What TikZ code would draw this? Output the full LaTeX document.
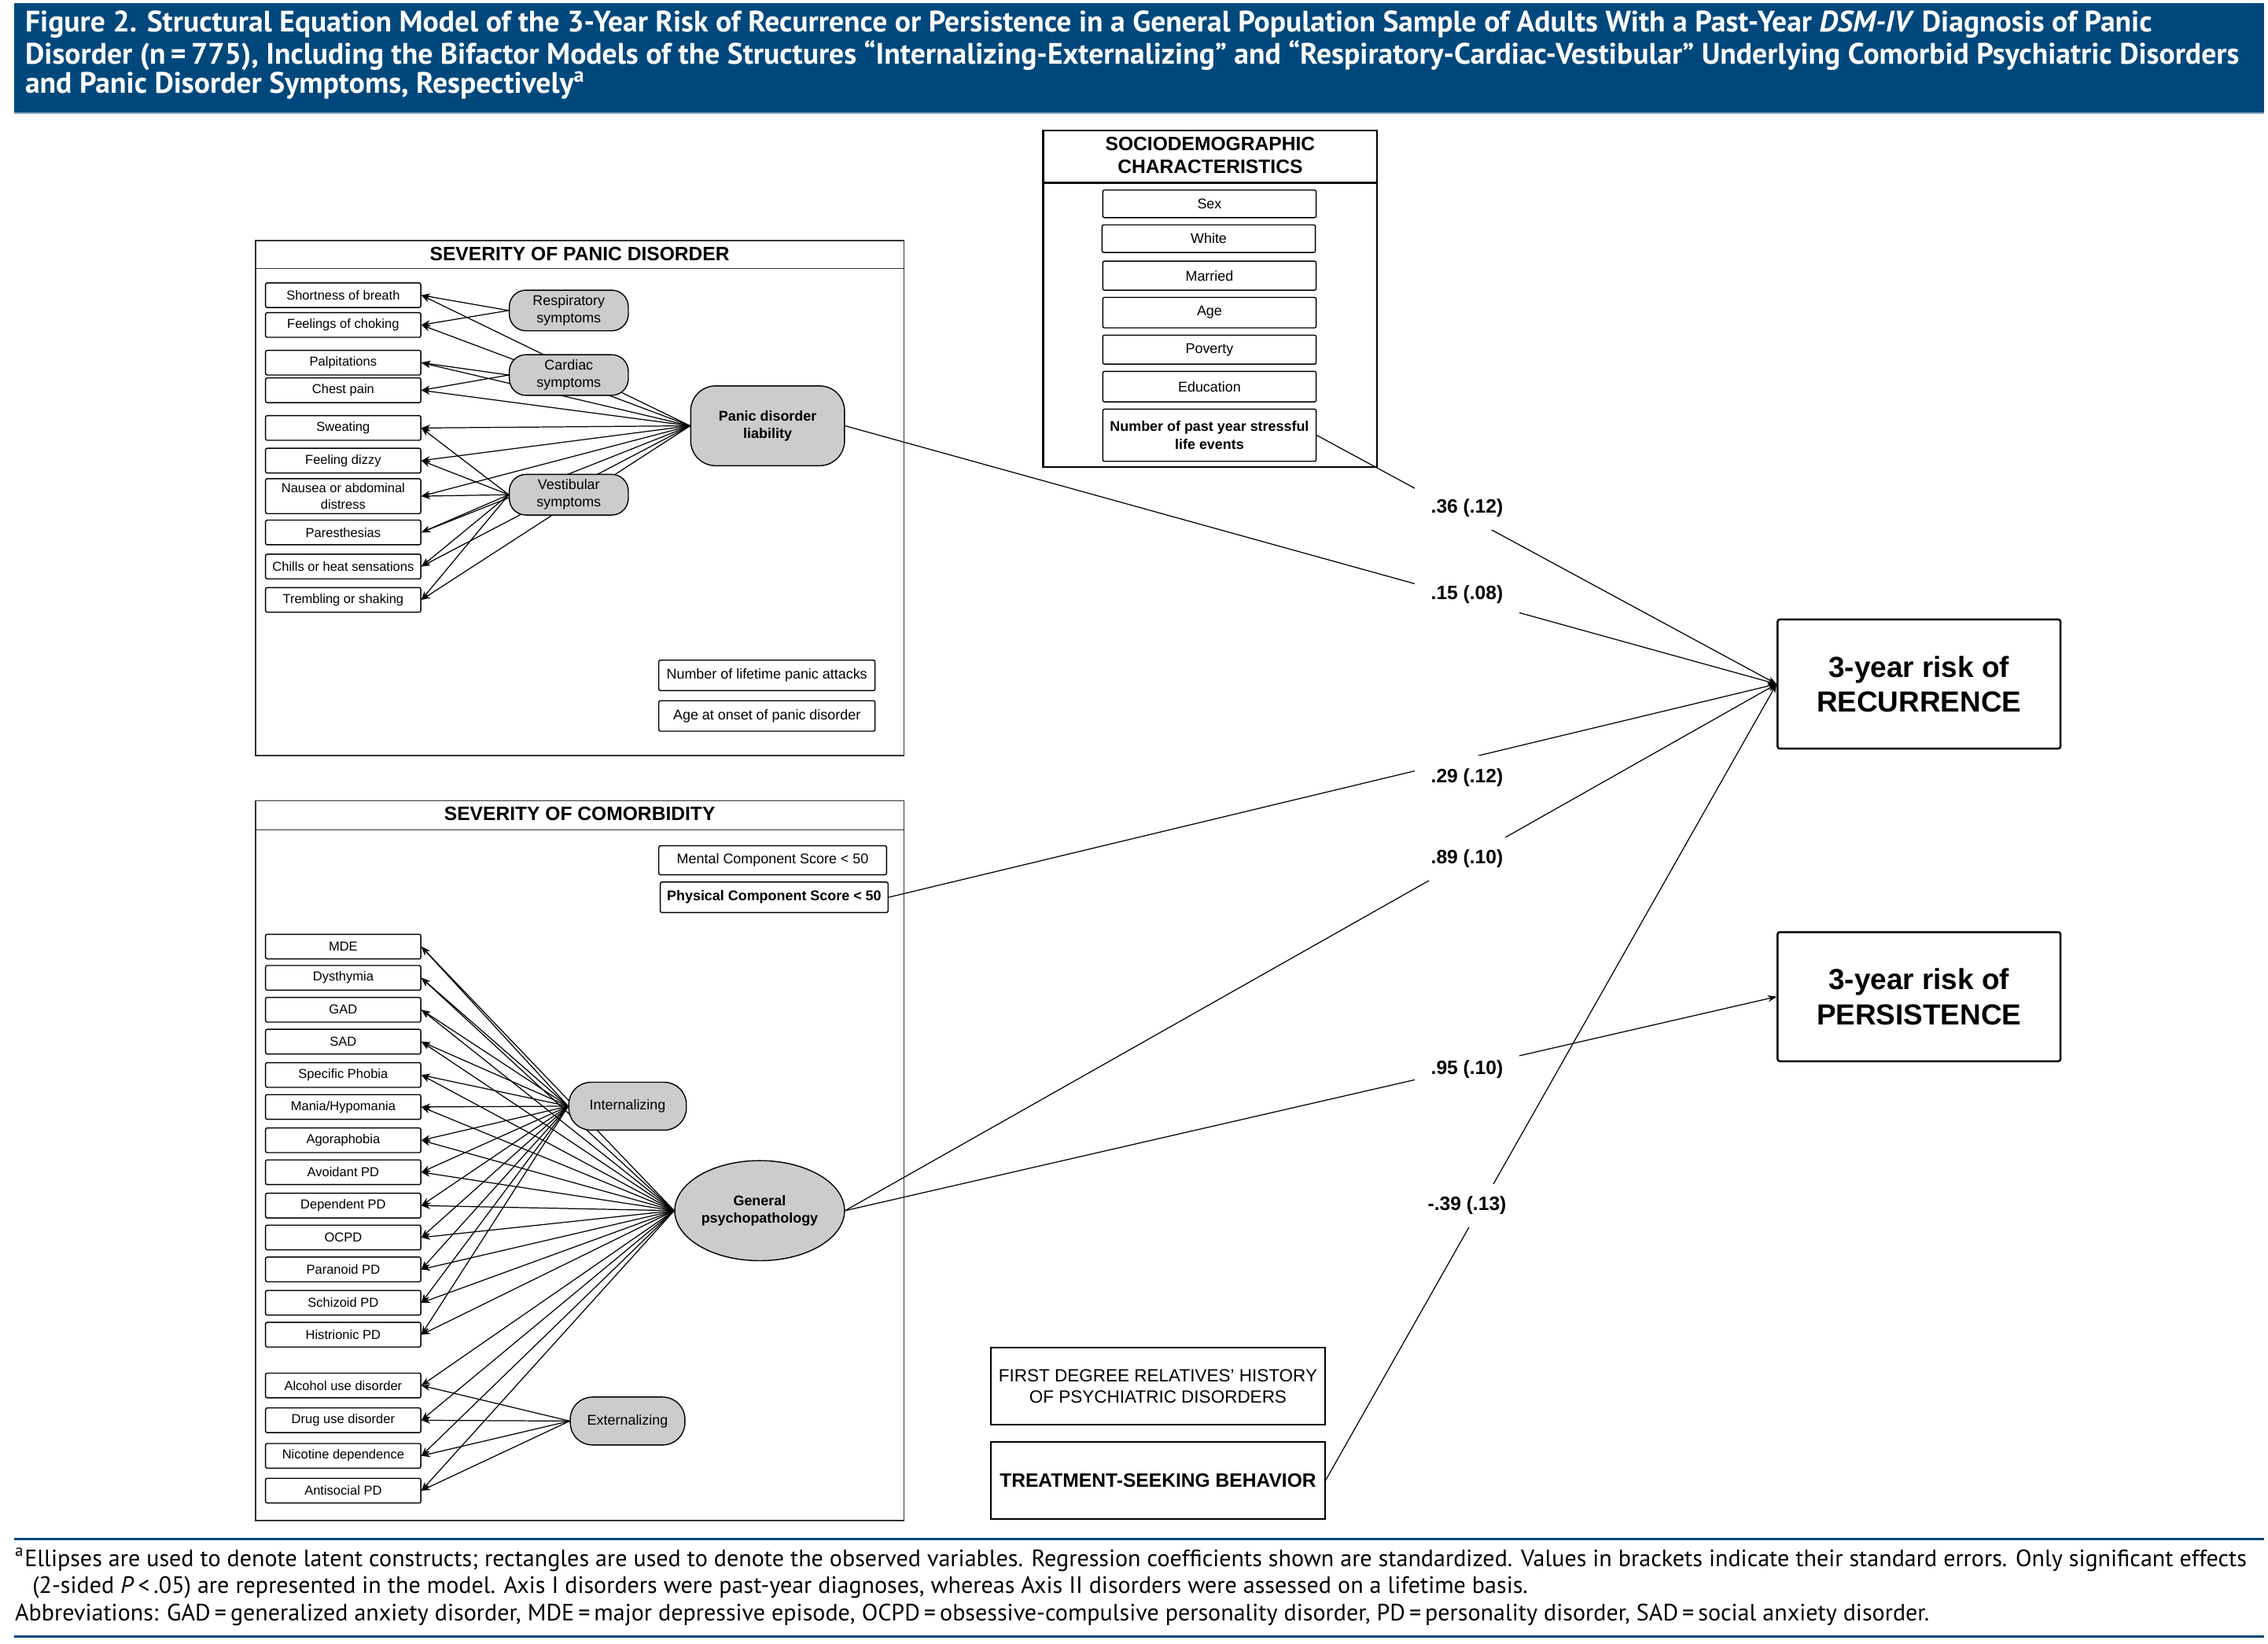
\documentclass[tikz,border=0pt]{standalone}
\usepackage{fontspec}
\setmainfont{Liberation Sans}
\newfontfamily\capfont{PT Sans}
\usetikzlibrary{arrows.meta,backgrounds,shapes.geometric}

\definecolor{capblue}{HTML}{00487C}
\newcommand{\pxu}{0.01845cm}
\newcommand{\obsfont}{\fontsize{5.1}{6.3}\selectfont}
\newcommand{\indfont}{\fontsize{4.7}{6}\selectfont}
\newcommand{\labfont}{\fontsize{7}{8.4}\selectfont\bfseries}

\tikzset{
  >={Stealth[length=3.2pt,width=2.4pt]},
  link/.style={->,line width=0.35pt},
  obs/.style={draw,fill=white,rounded corners=0.6pt,line width=0.4pt,inner sep=0pt,
    minimum width=107*\pxu,minimum height=17*\pxu,align=center,font=\obsfont},
  ind/.style={obs,font=\indfont},
  latent/.style={draw,fill=gray!40,rounded corners=6pt,line width=0.4pt,inner sep=0pt,
    minimum width=82*\pxu,minimum height=28*\pxu,align=center,font=\obsfont},
  liab/.style={latent,rounded corners=9pt,minimum width=106*\pxu,minimum height=55*\pxu,
    font=\obsfont\bfseries},
  gpell/.style={ellipse,draw,fill=gray!40,line width=0.4pt,inner sep=0pt,
    minimum width=117*\pxu,minimum height=69*\pxu,align=center,font=\obsfont\bfseries},
  secframe/.style={line width=0.5pt,draw=black!80},
  sectitle/.style={font=\fontsize{7}{8.4}\selectfont\bfseries,align=center,inner sep=0pt},
  outcome/.style={draw,line width=0.7pt,rounded corners=0.8pt,minimum width=195*\pxu,
    minimum height=89*\pxu,align=center,font=\fontsize{10.5}{12.6}\selectfont\bfseries},
  extra/.style={draw,line width=0.5pt,inner sep=0pt,minimum width=230*\pxu,minimum height=53*\pxu,
    align=center,font=\fontsize{6.4}{7.8}\selectfont},
  coef/.style={fill=white,inner sep=0pt,minimum width=72*\pxu,minimum height=30*\pxu,
    font=\labfont},
  capline/.style={anchor=west,inner sep=0pt,text=white,
    font=\capfont\fontsize{10.7}{12}\selectfont\bfseries},
  noteline/.style={anchor=west,inner sep=0pt,font=\capfont\fontsize{8.55}{10}\selectfont}
}

\begin{document}
\begin{tikzpicture}[x=\pxu,y=-\pxu]
\useasboundingbox (0,0) rectangle (1563,1133);

% caption band
\fill[capblue] (10,2) rectangle (1560,78);
\draw[capblue!45,line width=0.8pt] (10,78) -- (1560,78);
\node[capline] (head1) at (17,17) {Figure 2. Structural Equation Model of the 3-Year Risk of Recurrence or Persistence in a General Population Sample of Adults With a Past-Year \textit{DSM-IV} Diagnosis of Panic};
\node[capline] (head2) at (17,38) {Disorder (n\,=\,775), Including the Bifactor Models of the Structures “Internalizing-Externalizing” and “Respiratory-Cardiac-Vestibular” Underlying Comorbid Psychiatric Disorders};
\node[capline] (head3) at (17,59) {and Panic Disorder Symptoms, Respectively\textsuperscript{a}};

% severity of panic disorder
\draw[secframe] (176,166) rectangle (623,521);
\draw[secframe] (176,185) -- (623,185);
\node[sectitle] (pdtitle) at (399.5,175) {SEVERITY OF PANIC DISORDER};

\node[ind] (sob) at (236.5,203.5) {Shortness of breath};
\node[ind] (choke) at (236.5,224) {Feelings of choking};
\node[ind] (palp) at (236.5,250) {Palpitations};
\node[ind] (chest) at (236.5,269) {Chest pain};
\node[ind] (sweat) at (236.5,295) {Sweating};
\node[ind] (dizzy) at (236.5,317.5) {Feeling dizzy};
\node[ind,minimum height=24*\pxu] (nausea) at (236.5,342) {Nausea or abdominal\\distress};
\node[ind] (pares) at (236.5,367) {Paresthesias};
\node[ind] (chills) at (236.5,390.5) {Chills or heat sensations};
\node[ind] (tremb) at (236.5,413.5) {Trembling or shaking};

\node[latent] (resp) at (392,214) {Respiratory\\symptoms};
\node[latent] (card) at (392,258.5) {Cardiac\\symptoms};
\node[latent] (vest) at (392,341) {Vestibular\\symptoms};
\node[liab] (pdl) at (529,293.5) {Panic disorder\\liability};

\node[obs,minimum width=149*\pxu,minimum height=21*\pxu] (attacks) at (528.5,465.5) {Number of lifetime panic attacks};
\node[obs,minimum width=149*\pxu,minimum height=21*\pxu] (onset) at (528.5,493.5) {Age at onset of panic disorder};

% sociodemographic characteristics
\draw[line width=0.7pt] (719,90) rectangle (949,322);
\draw[line width=0.7pt] (719,126) -- (949,126);
\node[sectitle] (sdtitle) at (834,107) {SOCIODEMOGRAPHIC\\CHARACTERISTICS};
\node[obs,minimum width=147*\pxu,minimum height=19*\pxu] (sex) at (833.5,140.5) {Sex};
\node[obs,minimum width=147*\pxu,minimum height=19*\pxu] (white) at (833,164.5) {White};
\node[obs,minimum width=147*\pxu,minimum height=20*\pxu] (married) at (833.5,190) {Married};
\node[obs,minimum width=147*\pxu,minimum height=21*\pxu] (age) at (833.5,215.5) {Age};
\node[obs,minimum width=147*\pxu,minimum height=20*\pxu] (poverty) at (833.5,241) {Poverty};
\node[obs,minimum width=147*\pxu,minimum height=21*\pxu] (edu) at (833.5,266.5) {Education};
\node[obs,minimum width=147*\pxu,minimum height=36*\pxu,font=\obsfont\bfseries] (stress) at (833.5,300) {Number of past year stressful\\life events};

% severity of comorbidity
\draw[secframe] (176,552) rectangle (623,1048);
\draw[secframe] (176,572) -- (623,572);
\node[sectitle] (cmtitle) at (399.5,561) {SEVERITY OF COMORBIDITY};

\node[obs,minimum width=157*\pxu,minimum height=20*\pxu] (mcs) at (532.5,593) {Mental Component Score < 50};
\node[obs,minimum width=157*\pxu,minimum height=21*\pxu,font=\obsfont\bfseries] (pcs) at (533.5,618.5) {Physical Component Score < 50};

\node[ind] (mde) at (236.5,652.5) {MDE};
\node[ind] (dys) at (236.5,674) {Dysthymia};
\node[ind] (gad) at (236.5,696) {GAD};
\node[ind] (sad) at (236.5,718) {SAD};
\node[ind] (spec) at (236.5,741) {Specific Phobia};
\node[ind] (mania) at (236.5,763) {Mania/Hypomania};
\node[ind] (agora) at (236.5,786) {Agoraphobia};
\node[ind] (avoid) at (236.5,808) {Avoidant PD};
\node[ind] (dep) at (236.5,831) {Dependent PD};
\node[ind] (ocpd) at (236.5,853) {OCPD};
\node[ind] (para) at (236.5,875) {Paranoid PD};
\node[ind] (schiz) at (236.5,898) {Schizoid PD};
\node[ind] (hist) at (236.5,920) {Histrionic PD};
\node[ind] (alc) at (236.5,955) {Alcohol use disorder};
\node[ind] (drug) at (236.5,979) {Drug use disorder};
\node[ind] (nic) at (236.5,1003.5) {Nicotine dependence};
\node[ind] (anti) at (236.5,1027.5) {Antisocial PD};

\node[latent,rounded corners=8pt,minimum width=81*\pxu,minimum height=33*\pxu] (int) at (432.5,762.5) {Internalizing};
\node[latent,rounded corners=8pt,minimum width=79*\pxu,minimum height=33*\pxu] (ext) at (432.5,979.5) {Externalizing};
\node[gpell] (gp) at (523.5,834.5) {General\\psychopathology};

% outcomes and other predictors
\node[outcome] (rec) at (1322.5,471.5) {3-year risk of\\RECURRENCE};
\node[outcome] (pers) at (1322.5,687) {3-year risk of\\PERSISTENCE};
\node[extra] (fdr) at (798,955.5) {FIRST DEGREE RELATIVES' HISTORY\\OF PSYCHIATRIC DISORDERS};
\node[extra,font=\fontsize{7}{8}\selectfont\bfseries] (tsb) at (798,1020.5) {TREATMENT-SEEKING BEHAVIOR};

\begin{scope}[on background layer]
  % loadings
  \draw[link] (resp.west) -- (sob.east);
  \draw[link] (resp.west) -- (choke.east);
  \draw[link] (card.west) -- (palp.east);
  \draw[link] (card.west) -- (chest.east);
  \foreach \ind in {sweat,dizzy,nausea,pares,chills,tremb}
    \draw[link] (vest.west) -- (\ind.east);
  \foreach \ind in {sob,choke,palp,chest,sweat,dizzy,nausea,pares,chills,tremb}
    \draw[link] (pdl.west) -- (\ind.east);
  \foreach \ind in {mde,dys,gad,sad,spec,mania,agora,avoid,dep,ocpd,para,schiz,hist}
    \draw[link] (int.west) -- (\ind.east);
  \foreach \ind in {alc,drug,nic,anti}
    \draw[link] (ext.west) -- (\ind.east);
  \foreach \ind in {mde,dys,gad,sad,spec,mania,agora,avoid,dep,ocpd,para,schiz,hist,alc,drug,nic,anti}
    \draw[link] (gp.west) -- (\ind.east);
  % regressions
  \draw[link] (stress.east) -- (rec.west);
  \draw[link] (pdl.east) -- (rec.west);
  \draw[link] (pcs.east) -- (rec.west);
  \draw[link] (gp.east) -- (rec.west);
  \draw[link] (gp.east) -- (pers.west);
  \draw[link] (tsb.east) -- (rec.west);
\end{scope}

\node[coef] (c36) at (1011,350) {.36 (.12)};
\node[coef] (c15) at (1011,410) {.15 (.08)};
\node[coef] (c29) at (1011,536) {.29 (.12)};
\node[coef] (c89) at (1011,592) {.89 (.10)};
\node[coef] (c95) at (1011,737) {.95 (.10)};
\node[coef] (c39) at (1011,831) {-.39 (.13)};

% footnotes
\draw[capblue,line width=0.8pt] (10,1061) -- (1560,1061);
\node[noteline] (note1) at (10,1075) {\textsuperscript{a}Ellipses are used to denote latent constructs; rectangles are used to denote the observed variables. Regression coefficients shown are standardized. Values in brackets indicate their standard errors. Only significant effects};
\node[noteline] (note2) at (22,1094) {(2-sided \textit{P}\,<\,.05) are represented in the model. Axis I disorders were past-year diagnoses, whereas Axis II disorders were assessed on a lifetime basis.};
\node[noteline] (note3) at (10,1113) {Abbreviations: GAD\,=\,generalized anxiety disorder, MDE\,=\,major depressive episode, OCPD\,=\,obsessive-compulsive personality disorder, PD\,=\,personality disorder, SAD\,=\,social anxiety disorder.};
\draw[capblue,line width=0.8pt] (10,1128) -- (1560,1128);
\end{tikzpicture}
\end{document}
